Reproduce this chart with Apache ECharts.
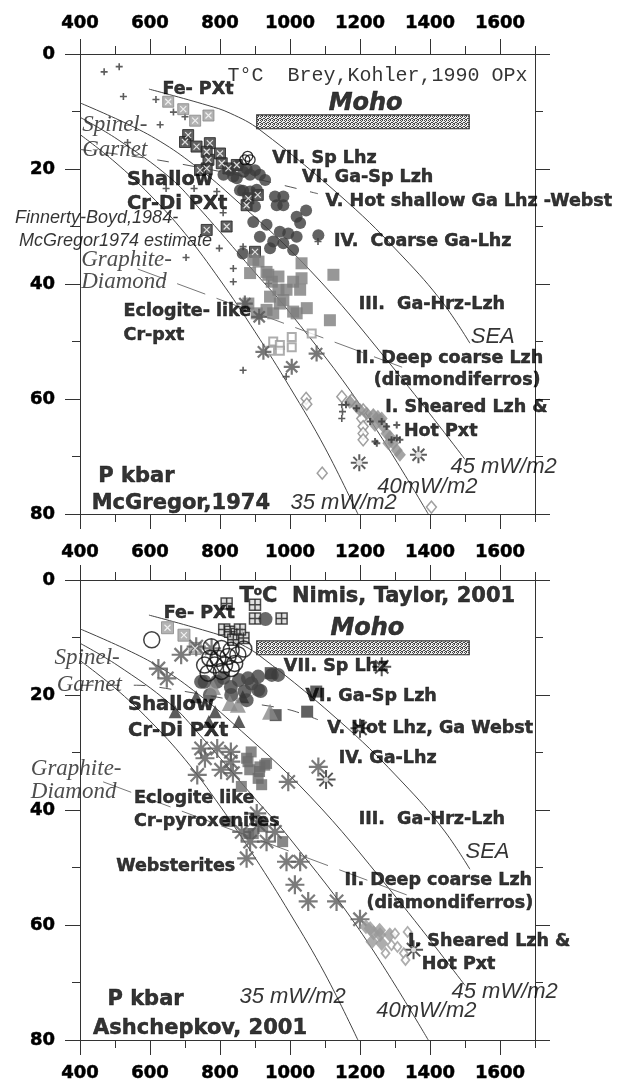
<!DOCTYPE html>
<html><head><meta charset="utf-8">
<script src="https://cdn.jsdelivr.net/npm/echarts@6/dist/echarts.min.js"></script>
<style>html,body{margin:0;padding:0;background:#fff}#c{width:627px;height:1086px}</style>
</head><body><div id="c"></div>
<script>
// ---------------- tick values ----------------
const xMajorTicks = [400, 600, 800, 1000, 1200, 1400, 1600];
const xMinorTicks = [500, 700, 900, 1100, 1300, 1500, 1700];
const yMajorTicks = [0, 20, 40, 60, 80];
const yMinorTicks = [10, 30, 50, 70];

// ---------------- reference lines (T °C, P kbar) ----------------
const geotherm35 = [[400,14],[500,18.8],[600,24.5],[700,31.2],[800,39.3],[900,48.3],[1000,58],[1100,68.5],[1194,80]];
const geotherm40 = [[400,11],[506,14.8],[657,21.5],[743,27],[894,37.6],[1000,45],[1200,61],[1395,80]];
const geotherm45 = [[400,8.5],[533,12.1],[629,15.2],[724,19.2],[829,24.5],[1057,37.6],[1286,53.9],[1500,70.5]];
const geothermSEA = [[597,6.1],[763,8.9],[829,10.3],[914,13.2],[1163,25.7],[1323,35.3],[1437,43.3],[1514,50.3]];
const spinelGarnetTop = [[400,16.6],[619,18.4],[886,21.5],[1080,24.3]];
const spinelGarnetBot = [[330,18.3],[562,18.3],[671,19.1],[886,21.4],[1000,22.6],[1080,24.3]];
const graphiteDiamondTop = [[565,37.4],[1335,54.8]];
const graphiteDiamondBot = [[466,35.1],[1335,54.8]];
const mohoBar = [[905,10.6,1512,13.0]];

// ---------------- top panel: McGregor 1974 ----------------
const topCross = [[469,3.1],[512,2.2],[524,7.4],[617,7.9],[667,10.1],[700,10.9],[629,12.3],[536,15.4],[646,23.4],[726,23.4],[791,23.9],[809,27.6],[798,33.8],[703,35.4],[838,37.3],[838,39.6],[866,33.5],[939,39.9],[1080,32.6],[866,55.0],[989,56.1],[1148,61.0],[1150,62.2],[1148,63.4]];
const topBoxXLight = [[652,8.3],[695,9.6],[729,11.6],[767,10.7]];
const topBoxXDark = [[709,14.1],[700,15.3],[733,16.1],[771,15.5],[762,17.0],[800,17.3],[767,18.4],[805,19.0],[762,19.9],[743,20.2],[824,19.9],[848,19.3],[881,25.1],[908,24.5],[876,26.3],[762,30.6],[819,30.0],[900,34.4]];
const topOpenCircle = [[871,18.4],[886,18.4],[879,17.8]];
const topDarkCircle = [[829,20.2],[852,19.3],[876,19.9],[900,20.2],[914,21.0],[838,21.3],[867,20.5],[886,21.0],[929,21.9],[848,21.6],[810,21.0],[857,23.7],[886,23.9],[905,23.6],[866,23.8],[957,24.8],[981,24.8],[962,26.3],[981,26.3],[900,26.5],[1046,27.2],[1019,28.3],[1029,29.4],[895,29.2],[933,29.7],[971,30.9],[995,31.2],[1019,31.8],[952,32.6],[981,32.9],[1009,34.1],[1081,31.5],[914,31.8],[865,34.7],[943,33.8]];
const topGraySquare = [[895,35.8],[910,36.1],[933,37.9],[886,38.1],[938,38.4],[948,39.6],[967,38.7],[1009,39.6],[1033,39.0],[990,41.0],[1029,41.0],[967,41.0],[1033,36.4],[1124,38.4],[981,42.8],[943,42.2],[971,43.4],[881,43.4],[905,45.1],[933,44.5],[952,45.1],[1009,44.8],[1019,45.1],[1048,44.2],[1114,46.3]];
const topOpenSquare = [[952,50.0],[971,50.6],[1005,49.2],[1005,51.0],[971,51.6],[1062,48.6],[943,51.6]];
const topStar = [[871,43.4],[912,45.7],[924,51.8],[1076,52.1],[1005,54.4]];
const topOpenStar = [[1198,71.1],[1367,69.7]];
const topOpenDiamond = [[1148,59.6],[1176,60.2],[1046,59.9],[1048,60.9],[1209,61.9],[1205,63.4],[1209,64.8],[1209,66.0],[1209,67.1],[1238,62.8],[1092,72.9],[1404,78.8]];
const topGrayDiamond = [[1171,60.5],[1190,61.3],[1200,61.9],[1219,62.5],[1238,63.1],[1251,63.1],[1262,63.4],[1257,63.8],[1267,64.8],[1276,66.0],[1286,66.6],[1295,67.7],[1305,68.9],[1314,69.7],[1281,67.7],[1243,64.5]];
const topDarkDot = [[1160,61.0],[1190,61.6],[1229,63.9],[1262,63.9],[1276,64.8],[1305,64.5],[1290,67.1],[1305,66.8],[1243,67.4],[1314,67.1],[1248,67.7]];

// ---------------- bottom panel: Nimis & Taylor 2001 ----------------
const botPlusBox = [[819,4.1],[900,4.3],[900,6.7],[976,6.7],[812,8.6],[829,9.0],[848,9.4],[867,10.1],[838,10.4],[857,8.6]];
const botBoxXLight = [[650,8.3],[697,9.6],[729,11.9]];
const botOpenCircle = [[605,10.4],[868,12.0],[775,11.6],[804,11.9],[832,12.2],[771,13.6],[794,13.6],[823,13.3],[851,13.0],[756,14.8],[785,14.8],[813,14.8],[842,14.5],[766,16.2],[804,15.9],[832,15.4]];
const botStar = [[689,13.0],[732,11.6],[776,11.9],[624,15.4],[648,17.1],[746,29.3],[792,29.3],[831,29.9],[757,31.0],[831,31.6],[735,33.9],[803,33.0],[837,33.6],[995,35.1],[1081,32.5],[905,40.6],[910,42.5],[862,43.8],[886,45.5],[933,45.5],[957,43.8],[876,48.4],[990,49.0],[1029,49.0],[1014,53.0],[1052,55.9],[1133,55.9],[1200,59.0]];
const botDarkStar = [[1262,15.1],[1200,25.8],[1103,34.7],[1353,64.3]];
const botDarkTriangle = [[672,22.9],[786,22.9],[768,24.6],[854,24.6],[865,20.3],[732,20.3]];
const botGrayTriangle = [[780,18.6],[828,21.4],[851,21.7],[943,22.9]];
const botDarkCircle = [[746,17.7],[756,17.7],[791,17.7],[810,17.0],[831,18.6],[854,17.4],[880,17.1],[909,16.8],[890,18.0],[870,19.4],[909,19.1],[916,19.3],[832,20.0],[771,20.0],[876,20.9],[948,16.5],[966,16.5],[930,6.8]];
const botDarkSquare = [[945,16.2],[1075,19.4],[1049,22.9],[959,23.5]];
const botGraySquare = [[889,29.9],[880,31.6],[928,32.2],[913,33.3],[885,33.0],[909,34.5],[861,35.9],[876,31.0],[914,32.5],[919,35.6],[933,31.9],[824,42.0],[882,44.1],[895,44.1],[922,42.9],[979,45.5]];
const botGrayDiamond = [[1217,60.3],[1229,60.6],[1239,61.4],[1256,60.9],[1257,61.7],[1285,61.7],[1262,63.2],[1234,62.9]];
const botOpenDiamond = [[1336,61.2],[1290,63.5],[1307,63.8],[1273,64.9],[1325,64.9],[1330,66.1],[1300,61.5]];

// ---------------- annotation texts (anchored in data units) ----------------
const topTexts = {
  mono: [[820,3.8,'T°C  Brey,Kohler,1990 OPx']],
  bold: [[634,6.1,'Fe- PXt'],[948,18.1,'VII. Sp Lhz'],[1033,21.4,'VI. Ga-Sp Lzh'],[1100,25.7,'V. Hot shallow Ga Lhz -Webst'],[1124,32.6,'IV.  Coarse Ga-Lhz'],[1195,43.6,'III.  Ga-Hrz-Lzh'],[1186,52.9,'II. Deep coarse Lzh'],[1238,56.7,'(diamondiferros)'],[1271,61.4,'I. Sheared Lzh &'],[1324,65.7,'Hot Pxt'],[523,44.8,'Eclogite- like'],[523,48.9,'Cr-pxt']],
  boldBig: [[533,21.9,'Shallow'],[533,26.0,'Cr-Di PXt']],
  boldXL: [[451,73.4,'P kbar'],[432,78.1,'McGregor,1974']],
  moho: [[1109,8.6,'Moho']],
  serifIt: [[405,12.3,'Spinel-'],[405,16.7,'Garnet'],[402,35.8,'Graphite-'],[402,39.6,'Diamond']],
  sansIt: [[1515,49.2,'SEA'],[1457,71.8,'45 mW/m2'],[1248,75.2,'40mW/m2'],[1000,78.1,'35 mW/m2']],
  sansItSmall: [[213,28.5,'Finnerty-Boyd,1984-'],[224,32.6,'McGregor1974 estimate']]
};
const botTexts = {
  title: [[854,2.9,'{a|T}{s|o}{a|C  Nimis, Taylor, 2001}']],
  bold: [[638,5.8,'Fe- PXt'],[981,15.1,'VII. Sp Lhz'],[1043,20.3,'VI. Ga-Sp Lzh'],[1105,25.8,'V. Hot Lhz, Ga Webst'],[1138,31.0,'IV. Ga-Lhz'],[1195,41.7,'III.  Ga-Hrz-Lzh'],[1154,52.2,'II. Deep coarse Lzh'],[1217,56.2,'(diamondiferros)'],[1336,62.9,'I. Sheared Lzh &'],[1375,66.8,'Hot Pxt'],[502,49.9,'Websterites'],[553,38.0,'Eclogite like'],[553,42.0,'Cr-pyroxenites']],
  boldBig: [[536,21.7,'Shallow'],[536,26.2,'Cr-Di PXt']],
  boldXL: [[477,73.0,'P kbar'],[436,78.0,'Ashchepkov, 2001']],
  moho: [[1114,8.4,'Moho']],
  serifIt: [[326,13.6,'Spinel-'],[332,18.3,'Garnet'],[258,32.8,'Graphite-'],[258,36.8,'Diamond']],
  sansIt: [[1500,47.2,'SEA'],[1460,71.6,'45 mW/m2'],[1245,74.9,'40mW/m2'],[854,72.5,'35 mW/m2']]
};

// ---------------- styles ----------------
const BOLD = 'DejaVu Sans';
const heavy = {textBorderColor:'#000', textBorderWidth:0.5};
const textStyles = {
  mono: {fontFamily:'Liberation Mono', fontSize:20, color:'#000'},
  bold: Object.assign({fontFamily:BOLD, fontWeight:'bold', fontSize:17.5, color:'#000'}, heavy),
  boldBig: Object.assign({fontFamily:BOLD, fontWeight:'bold', fontSize:19.5, color:'#000'}, heavy),
  boldXL: Object.assign({fontFamily:BOLD, fontWeight:'bold', fontSize:21, color:'#000'}, heavy),
  moho: Object.assign({fontFamily:BOLD, fontWeight:'bold', fontStyle:'italic', fontSize:24, color:'#000'}, heavy),
  serifIt: {fontFamily:'Liberation Serif', fontStyle:'italic', fontSize:23, color:'#222'},
  sansIt: {fontFamily:'Liberation Sans', fontStyle:'italic', fontSize:22, color:'#000'},
  sansItSmall: {fontFamily:'Liberation Sans', fontStyle:'italic', fontSize:18, color:'#000'},
  title: {fontFamily:BOLD, fontWeight:'bold', fontSize:21, color:'#000',
          rich:{a:Object.assign({fontFamily:BOLD, fontWeight:'bold', fontSize:21, color:'#000'}, heavy),
                s:Object.assign({fontFamily:BOLD, fontWeight:'bold', fontSize:12, color:'#000', verticalAlign:'top', padding:[0,0,10,0]}, heavy)}}
};

const P_PLUS = 'path://M5,0L5,10M0,5L10,5';
const P_X = 'path://M0,0L10,10M10,0L0,10';
const P_STAR = 'path://M10,0L10,20M0,10L20,10M3,3L17,17M17,3L3,17';

function stipple(){
  const c = document.createElement('canvas'); c.width = 4; c.height = 4;
  const g = c.getContext('2d'); g.fillStyle = '#eeeeee'; g.fillRect(0,0,4,4);
  g.fillStyle = '#444'; [[0,0],[2,0],[1,1],[3,2],[0,2],[2,3],[1,3]].forEach(p => g.fillRect(p[0],p[1],1,1));
  return c;
}
const pattern = {image: stipple(), repeat: 'repeat'};

const AX = '#333';
const tickFmt = function(v){ return String(v); };
const tickFont = Object.assign({color:'#000', fontFamily:BOLD, fontWeight:'bold', fontSize:18}, heavy);
function mkX(g, pos, major, showLabel, margin){
  return {type:'value', gridIndex:g, position:pos, min:400, max:1700,
    axisLine:{show:major, onZero:false, lineStyle:{color:AX, width:1}},
    axisTick:{show:true, inside:false, length: major?15:8, customValues: major?xMajorTicks:xMinorTicks, lineStyle:{color:AX, width:1}},
    axisLabel:Object.assign({show:showLabel, customValues:xMajorTicks, formatter:tickFmt, margin:margin||8}, tickFont),
    splitLine:{show:false}, minorTick:{show:false}};
}
function mkY(g, pos, major, showLabel){
  return {type:'value', gridIndex:g, position:pos, min:0, max:80, inverse:true,
    axisLine:{show:major, onZero:false, lineStyle:{color:AX, width:1}},
    axisTick:{show:true, inside:false, length: major?15:8, customValues: major?yMajorTicks:yMinorTicks, lineStyle:{color:AX, width:1}},
    axisLabel:Object.assign({show:showLabel, customValues:yMajorTicks, formatter:tickFmt, margin:25}, tickFont),
    splitLine:{show:false}, minorTick:{show:false}};
}

function sc(g, data, symbol, size, style, z){
  return {type:'scatter', xAxisIndex:g*4, yAxisIndex:g*4, data:data, symbol:symbol, symbolSize:size,
    itemStyle:style, z:z||3, silent:true, clip:false};
}
function ln(g, data, style, smooth){
  return {type:'line', xAxisIndex:g*4, yAxisIndex:g*4, data:data, symbol:'none', showSymbol:false,
    smooth:smooth, lineStyle:style, z:1, silent:true, clip:false};
}
function texts(g, groups){
  const data = [];
  Object.keys(groups).forEach(k => {
    groups[k].forEach(t => {
      data.push({value:[t[0], t[1]], label:Object.assign({show:true, position:'right', distance:0, formatter:t[2]}, textStyles[k])});
    });
  });
  return {type:'scatter', xAxisIndex:g*4, yAxisIndex:g*4, data:data, symbolSize:1,
    itemStyle:{color:'rgba(0,0,0,0)'}, z:20, silent:true, clip:false};
}
function moho(g){
  return {type:'custom', xAxisIndex:g*4, yAxisIndex:g*4, data:mohoBar, z:4, silent:true,
    renderItem:function(params, api){
      const a = api.coord([api.value(0), api.value(1)]);
      const b = api.coord([api.value(2), api.value(3)]);
      return {type:'rect', shape:{x:a[0], y:a[1], width:b[0]-a[0], height:b[1]-a[1]},
        style:{fill:pattern, stroke:'#333', lineWidth:1.2}};
    }};
}
function curves(g, sg, gd){
  const cs = {color:'#444', width:1};
  return [ln(g, geotherm35, cs, 0.4), ln(g, geotherm40, cs, 0.4), ln(g, geotherm45, cs, 0.4), ln(g, geothermSEA, cs, 0.4),
    ln(g, sg, {color:'#555', width:1, type:[12,14]}, 0.3),
    ln(g, gd, {color:'#777', width:1, type:[30,12]}, false)];
}

const series = [];
// top panel
series.push(...curves(0, spinelGarnetTop, graphiteDiamondTop));
series.push(moho(0));
series.push(sc(0, topCross, P_PLUS, 7, {color:'none', borderColor:'#333', borderWidth:1.6}));
series.push(sc(0, topBoxXLight, 'rect', 11, {color:'#a0a0a0', borderColor:'#888', borderWidth:1}));
series.push(sc(0, topBoxXLight, P_X, 6, {color:'none', borderColor:'#fff', borderWidth:1.2}, 4));
series.push(sc(0, topBoxXDark, 'rect', 11, {color:'#3a3a3a', borderColor:'#222', borderWidth:1}));
series.push(sc(0, topBoxXDark, P_X, 6, {color:'none', borderColor:'#fff', borderWidth:1.2}, 4));
series.push(sc(0, topDarkCircle, 'circle', 12, {color:'#3c3c3c'}));
series.push(sc(0, topOpenCircle, 'circle', 10, {color:'rgba(0,0,0,0)', borderColor:'#000', borderWidth:1.3}, 5));
series.push(sc(0, topGraySquare, 'rect', 12, {color:'#7d7d7d'}));
series.push(sc(0, topOpenSquare, 'rect', 8, {color:'#fff', borderColor:'#999', borderWidth:2}));
series.push(sc(0, topStar, P_STAR, 16, {color:'none', borderColor:'#555', borderWidth:2.2}));
series.push(sc(0, topOpenStar, P_STAR, 17, {color:'none', borderColor:'#333', borderWidth:2}));
series.push(sc(0, topOpenStar, 'circle', 6, {color:'#fff'}, 4));
series.push(sc(0, topOpenDiamond, 'diamond', [10,12], {color:'#fff', borderColor:'#888', borderWidth:1.5}));
series.push(sc(0, topGrayDiamond, 'diamond', [12,14], {color:'#8e8e8e'}));
series.push(sc(0, topDarkDot, P_PLUS, 7, {color:'none', borderColor:'#333', borderWidth:2}, 4));
series.push(texts(0, topTexts));
// bottom panel
series.push(...curves(1, spinelGarnetBot, graphiteDiamondBot));
series.push(moho(1));
series.push(sc(1, botPlusBox, 'rect', 11, {color:'#d8d8d8', borderColor:'#222', borderWidth:1.5}));
series.push(sc(1, botPlusBox, P_PLUS, 11, {color:'none', borderColor:'#222', borderWidth:1.5}, 4));
series.push(sc(1, botBoxXLight, 'rect', 12, {color:'#a0a0a0', borderColor:'#888', borderWidth:1}));
series.push(sc(1, botBoxXLight, P_X, 6, {color:'none', borderColor:'#fff', borderWidth:1.2}, 4));
series.push(sc(1, botDarkCircle, 'circle', 14, {color:'#444'}));
series.push(sc(1, botDarkSquare, 'rect', 12, {color:'#3a3a3a'}));
series.push(sc(1, botGraySquare, 'rect', 11, {color:'#6a6a6a'}));
series.push(sc(1, botDarkTriangle, 'triangle', 13, {color:'#333'}));
series.push(sc(1, botGrayTriangle, 'triangle', 16, {color:'#8a8a8a'}, 4));
series.push(sc(1, botOpenCircle, 'circle', 16, {color:'rgba(0,0,0,0)', borderColor:'#111', borderWidth:1.5}, 5));
series.push(sc(1, botStar, P_STAR, 19, {color:'none', borderColor:'#5a5a5a', borderWidth:2.2}));
series.push(sc(1, botDarkStar, P_STAR, 19, {color:'none', borderColor:'#2a2a2a', borderWidth:2}));
series.push(sc(1, botDarkStar, 'circle', 5, {color:'#fff'}, 4));
series.push(sc(1, botGrayDiamond, 'diamond', [13,15], {color:'#999'}));
series.push(sc(1, botOpenDiamond, 'diamond', [8,10], {color:'#fff', borderColor:'#999', borderWidth:1.8}, 4));
series.push(texts(1, botTexts));

const chart = echarts.init(document.getElementById('c'), null, {renderer:'canvas'});
chart.setOption({
  animation:false,
  backgroundColor:'#fff',
  grid:[
    {left:80, top:54, width:455, height:460, containLabel:false, outerBoundsMode:'none'},
    {left:80, top:580, width:455, height:460, containLabel:false, outerBoundsMode:'none'}
  ],
  xAxis:[
    mkX(0,'top',true,true,22), mkX(0,'top',false,false), mkX(0,'bottom',true,false), mkX(0,'bottom',false,false),
    mkX(1,'top',true,true,19), mkX(1,'top',false,false), mkX(1,'bottom',true,true,24), mkX(1,'bottom',false,false)
  ],
  yAxis:[
    mkY(0,'left',true,true), mkY(0,'left',false,false), mkY(0,'right',true,false), mkY(0,'right',false,false),
    mkY(1,'left',true,true), mkY(1,'left',false,false), mkY(1,'right',true,false), mkY(1,'right',false,false)
  ],
  series: series
});
</script>
</body></html>
